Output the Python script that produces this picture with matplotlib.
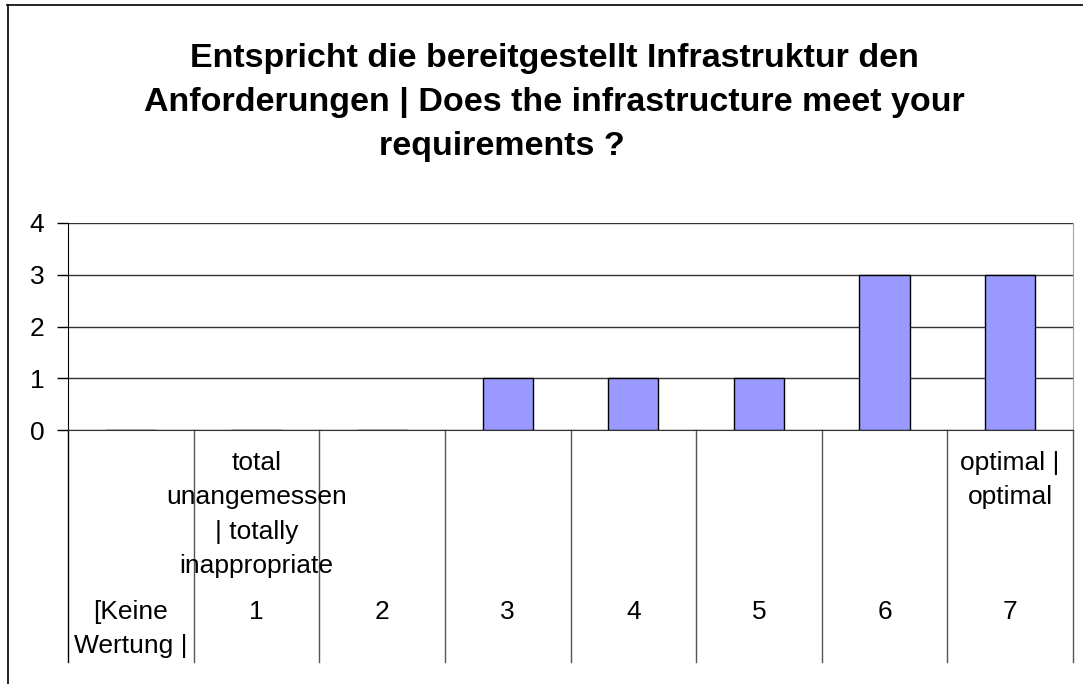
import matplotlib.pyplot as plt
from matplotlib.lines import Line2D

plt.rcParams['font.family'] = ['Liberation Sans', 'DejaVu Sans']

# Daten
kategorien = ["[Keine\nWertung |", "1", "2", "3", "4", "5", "6", "7"]
beschreibung = ["", "total\nunangemessen\n| totally\ninappropriate", "", "", "", "", "", "optimal |\noptimal"]
anzahl = [0, 0, 0, 1, 1, 1, 3, 3]
y_ticks = [0, 1, 2, 3, 4]

titel_zeilen = ["Entspricht die bereitgestellt Infrastruktur den",
                "Anforderungen | Does the infrastructure meet your",
                "requirements ?"]

fig = plt.figure(figsize=(10.83, 6.84), dpi=100)
ax = fig.add_axes([68 / 1083, 1 - 430 / 684, (1073 - 68) / 1083, (430 - 223) / 684])

x = list(range(len(kategorien)))
ax.bar(x, anzahl, width=0.4, color='#9999ff', edgecolor='black', linewidth=1, zorder=3)

ax.set_xlim(-0.5, len(kategorien) - 0.5)
ax.set_ylim(0, 4)
ax.set_yticks(y_ticks)
ax.set_yticklabels([str(t) for t in y_ticks], fontsize=19)
ax.tick_params(axis='y', length=8, width=1, pad=9)
ax.set_xticks([])
ax.yaxis.grid(True, color='#333333', linewidth=1)
ax.set_axisbelow(True)

ax.spines['top'].set_visible(False)
ax.spines['right'].set_color('#a0a0a0')
ax.spines['left'].set_color('black')
ax.spines['bottom'].set_color('#333333')
ax.spines['bottom'].set_zorder(4)

# Trennlinien unter der Achse
unten = -(662 - 430) / (430 - 223)
tr = ax.get_xaxis_transform()
for i in range(len(kategorien) + 1):
    farbe = 'black' if i == 0 else '#555555'
    ax.add_line(Line2D([i - 0.5, i - 0.5], [0, unten], transform=tr,
                       color=farbe, linewidth=1, clip_on=False))

for i, (k, b) in enumerate(zip(kategorien, beschreibung)):
    ax.text(i, -0.82, k, transform=tr, ha='center', va='top',
            multialignment='center', fontsize=19, linespacing=1.55)
    if b:
        ax.text(i, -0.1, b, transform=tr, ha='center', va='top',
                multialignment='center', fontsize=19, linespacing=1.55)

# Titel, zeilenweise wie im Original
titel_x = [554, 554, 502]
titel_y = [67, 111, 155]
for zeile, tx, ty in zip(titel_zeilen, titel_x, titel_y):
    fig.text(tx / 1083, 1 - ty / 684, zeile, ha='center', va='baseline',
             fontsize=24.5, fontweight='bold')

# Rahmen
fig.add_artist(Line2D([7.5 / 1083, 7.5 / 1083], [0, 1 - 5 / 684], color='black', linewidth=1.2))
fig.add_artist(Line2D([7 / 1083, 1], [1 - 5 / 684, 1 - 5 / 684], color='black', linewidth=1.2))

fig.savefig('out.png', dpi=100)
